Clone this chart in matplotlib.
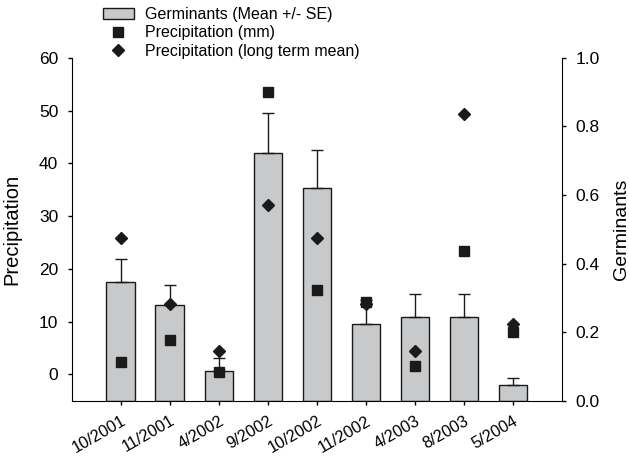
import matplotlib.pyplot as plt
import numpy as np

plt.rcParams['font.family'] = ['Liberation Sans', 'DejaVu Sans']

dates = ['10/2001', '11/2001', '4/2002', '9/2002', '10/2002', '11/2002', '4/2003', '8/2003', '5/2004']
germ_mean = [0.346, 0.279, 0.088, 0.723, 0.622, 0.223, 0.245, 0.245, 0.046]
germ_se = [0.067, 0.059, 0.036, 0.116, 0.108, 0.071, 0.067, 0.067, 0.021]
precip = [2.4, 6.5, 0.5, 53.6, 16.0, 13.7, 1.6, 23.3, 8.1]
precip_ltm = [25.8, 13.3, 4.5, 32.1, 25.8, 13.3, 4.5, 49.3, 9.5]

x = np.arange(len(dates))

fig = plt.figure(figsize=(6.29, 4.57), dpi=100)
ax = fig.add_axes([0.1137, 0.1232, 0.7803, 0.75])
ax2 = ax.twinx()

# germinants on the main axes, ticks on the right
bars = ax.bar(x, germ_mean, width=0.58, color='#c8c9cb', edgecolor='#1a1a1a', linewidth=1,
              yerr=[np.zeros(len(x)), germ_se],
              error_kw=dict(ecolor='#1a1a1a', elinewidth=1, capsize=4.2, capthick=1))
ax.set_ylim(0, 1.0)
ax.set_xlim(-1, 9)
ax.yaxis.tick_right()
ax.yaxis.set_label_position('right')
ax.set_yticks([0.0, 0.2, 0.4, 0.6, 0.8, 1.0])
ax.set_yticklabels(['0.0', '0.2', '0.4', '0.6', '0.8', '1.0'])
ax.set_ylabel('Germinants', fontsize=14)
ax.yaxis.set_label_coords(1.103, 0.5)
ax.set_xticks(x)
ax.set_xticklabels(dates, rotation=30, ha='right', rotation_mode='anchor', fontsize=11.8)
ax.tick_params(axis='y', direction='out', length=3, width=1, labelsize=12.5, pad=6.5)
ax.tick_params(axis='x', direction='out', length=3, width=1, pad=6)
ax.spines['top'].set_visible(False)
ax.spines['left'].set_visible(False)

# precipitation on the twin axes, ticks on the left
sq, = ax2.plot(x, precip, 's', color='#1a1a1a', markersize=6.5, linestyle='none')
dm, = ax2.plot(x, precip_ltm, 'D', color='#1a1a1a', markersize=6, linestyle='none')
ax2.set_ylim(-5, 60)
ax2.yaxis.tick_left()
ax2.yaxis.set_label_position('left')
ax2.set_yticks([0, 10, 20, 30, 40, 50, 60])
ax2.set_ylabel('Precipitation', fontsize=14.5)
ax2.yaxis.set_label_coords(-0.1015, 0.5)
ax2.tick_params(axis='y', direction='out', length=3, width=1, labelsize=12.5, pad=6.5)
ax2.spines['top'].set_visible(False)
ax2.spines['right'].set_visible(False)
ax2.spines['bottom'].set_visible(False)

fig.legend([bars, sq, dm],
           ['Germinants (Mean +/- SE)', 'Precipitation (mm)', 'Precipitation (long term mean)'],
           loc='upper left', bbox_to_anchor=(0.163, 0.985), frameon=False, fontsize=11.5,
           handlelength=1.96, handletextpad=0.69, labelspacing=0.22,
           borderpad=0, borderaxespad=0)

plt.savefig('out.png', dpi=100)
